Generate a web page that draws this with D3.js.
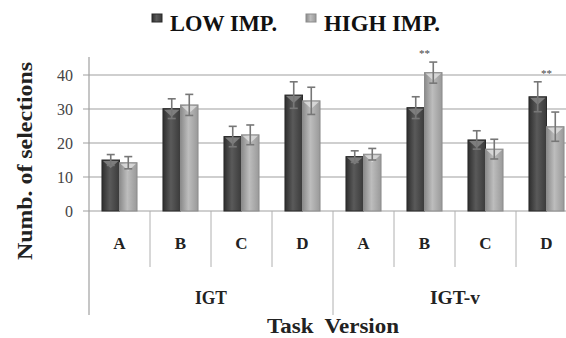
<!DOCTYPE html>
<html>
<head>
<meta charset="utf-8">
<script src="https://cdn.jsdelivr.net/npm/d3@7"></script>
<style>
  body{margin:0;background:#fff}
  text{font-family:"Liberation Serif","Times New Roman","DejaVu Serif",serif}
</style>
</head>
<body>
<svg id="chart" width="566" height="338"></svg>
<script>
// data
var groups = ["IGT","IGT-v"]
var groupWidth = [32, 50]
var decks = ["A","B","C","D"]
var series = ["LOW IMP.","HIGH IMP."]
var legendWidth = [107, 116]
var lowImp  = [15.0, 30.1, 21.9, 34.1, 16.0, 30.4, 20.9, 33.6]
var highImp = [14.2, 31.2, 22.4, 32.4, 16.7, 40.7, 18.2, 24.8]
var lowErr  = [1.6, 2.9, 3.0, 3.9, 1.7, 3.2, 2.7, 4.4]
var highErr = [1.8, 3.1, 2.9, 4.0, 1.7, 3.1, 2.9, 4.3]
var signif  = [false,false,false,false,false,true,false,true]
var yTicks = [0,10,20,30,40]

var svg = d3.select("#chart")

var cats = []
groups.forEach(function(g){ decks.forEach(function(d){ cats.push(g+"|"+d) }) })

var x = d3.scaleBand().domain(cats).range([89,577])
var xs = d3.scaleBand().domain(series).range([0,x.bandwidth()]).paddingOuter(0.74)
var y = d3.scaleLinear().domain([0,45]).range([211,58])

var colors = {"LOW IMP.":["#2e2e2e","#5a5a5a","#3a3a3a"], "HIGH IMP.":["#8a8a8a","#bdbdbd","#999"]}

var defs = svg.append("defs")
series.forEach(function(s,i){
  var gr = defs.append("linearGradient").attr("id","grad"+i)
  gr.append("stop").attr("offset","0%").attr("stop-color",colors[s][0])
  gr.append("stop").attr("offset","45%").attr("stop-color",colors[s][1])
  gr.append("stop").attr("offset","100%").attr("stop-color",colors[s][2])
})

// grid
svg.append("g").selectAll("line").data(yTicks).enter().append("line")
  .attr("x1",83).attr("x2",566)
  .attr("y1",function(d){return y(d)}).attr("y2",function(d){return y(d)})
  .attr("stroke","#a0a0a0").attr("stroke-width",1.2)

svg.append("g").selectAll("text").data(yTicks).enter().append("text")
  .attr("x",73).attr("y",function(d){return y(d)+6})
  .attr("text-anchor","end").attr("font-size",16).attr("fill","#444")
  .text(function(d){return d})

// axis + dividers
svg.append("line").attr("x1",89).attr("x2",89).attr("y1",57).attr("y2",315)
  .attr("stroke","#a0a0a0").attr("stroke-width",1.2)
svg.append("g").selectAll("line").data(cats.slice(1)).enter().append("line")
  .attr("x1",function(d){return x(d)}).attr("x2",function(d){return x(d)})
  .attr("y1",211).attr("y2",function(d,i){return i==3 ? 315 : 267})
  .attr("stroke","#b0b0b0").attr("stroke-width",1)

// bars
var rows = cats.map(function(c,i){
  return {cat:c, vals:[{s:series[0],v:lowImp[i],e:lowErr[i],k:0},{s:series[1],v:highImp[i],e:highErr[i],k:1}]}
})

var cg = svg.append("g").selectAll("g").data(rows).enter().append("g")
  .attr("transform",function(d){return "translate("+x(d.cat)+",0)"})

var bar = cg.selectAll("g.bar").data(function(d){return d.vals}).enter().append("g").attr("class","bar")

bar.append("rect")
  .attr("x",function(d){return xs(d.s)}).attr("width",xs.bandwidth())
  .attr("y",function(d){return y(d.v)}).attr("height",function(d){return y(0)-y(d.v)})
  .attr("fill",function(d){return "url(#grad"+d.k+")"})
  .attr("stroke",function(d){return d.k ? "#8c8c8c" : "#2a2a2a"}).attr("stroke-width",1)

// little bevel at the top
bar.append("path")
  .attr("d",function(d){
    var x0 = xs(d.s)+1, w = xs.bandwidth()-2, t = y(d.v)+1
    return "M"+x0+","+t+"L"+(x0+w)+","+t+"L"+(x0+w/2)+","+(t+7)+"Z"
  })
  .attr("fill",function(d){return d.k ? "#e0e0e0" : "#8a8a8a"}).attr("opacity",0.8)

// error bars
var eb = bar.append("g").attr("stroke","#777").attr("stroke-width",1.6)
eb.append("line")
  .attr("x1",function(d){return xs(d.s)+xs.bandwidth()/2}).attr("x2",function(d){return xs(d.s)+xs.bandwidth()/2})
  .attr("y1",function(d){return y(d.v+d.e)}).attr("y2",function(d){return y(d.v-d.e)})
eb.selectAll("line.cap").data(function(d){return [d.v+d.e,d.v-d.e].map(function(v){return {s:d.s,v:v}})})
  .enter().append("line").attr("class","cap")
  .attr("x1",function(d){return xs(d.s)+xs.bandwidth()/2-4}).attr("x2",function(d){return xs(d.s)+xs.bandwidth()/2+4})
  .attr("y1",function(d){return y(d.v)}).attr("y2",function(d){return y(d.v)})

// significance marks
cg.filter(function(d,i){return signif[i]}).append("text")
  .attr("x",x.bandwidth()/2)
  .attr("y",function(d){return y(d3.max(d.vals,function(v){return v.v+v.e}))-5})
  .attr("text-anchor","middle").attr("font-size",11).attr("fill","#444").text("**")

// category labels
svg.append("g").selectAll("text").data(cats).enter().append("text")
  .attr("x",function(d){return x(d)+x.bandwidth()/2}).attr("y",249)
  .attr("text-anchor","middle").attr("font-size",17).attr("font-weight","bold").attr("fill","#222")
  .text(function(d){return d.split("|")[1]})

svg.append("g").selectAll("text").data(groups).enter().append("text")
  .attr("x",function(g){return x(g+"|B")+x.bandwidth()})
  .attr("y",304).attr("text-anchor","middle").attr("font-size",18).attr("font-weight","bold").attr("fill","#222")
  .attr("textLength",function(d,i){return groupWidth[i]}).attr("lengthAdjust","spacingAndGlyphs")
  .text(function(d){return d})

// axis titles
svg.append("text").attr("x",333).attr("y",333).attr("text-anchor","middle")
  .attr("font-size",20).attr("font-weight","bold").attr("fill","#222")
  .attr("textLength",132).attr("lengthAdjust","spacingAndGlyphs")
  .text("Task  Version").style("white-space","pre")

svg.append("text").attr("transform","translate(32,161) rotate(-90)").attr("text-anchor","middle")
  .attr("font-size",21).attr("font-weight","bold").attr("fill","#222")
  .attr("textLength",198).attr("lengthAdjust","spacingAndGlyphs")
  .text("Numb. of selections")

// legend
var lg = svg.append("g").selectAll("g").data(series).enter().append("g")
  .attr("transform",function(d,i){return "translate("+(152+i*154)+",0)"})
lg.append("rect").attr("x",0).attr("y",14).attr("width",10).attr("height",8)
  .attr("fill",function(d,i){return "url(#grad"+i+")"})
  .attr("stroke",function(d,i){return i ? "#8c8c8c" : "#2a2a2a"})
lg.append("text").attr("x",18).attr("y",31).attr("font-size",24).attr("font-weight","bold").attr("fill","#111")
  .attr("textLength",function(d,i){return legendWidth[i]}).attr("lengthAdjust","spacingAndGlyphs")
  .text(function(d){return d})
</script>
</body>
</html>
